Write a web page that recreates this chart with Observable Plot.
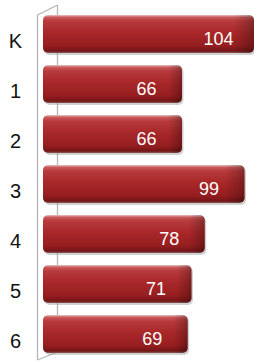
<!DOCTYPE html>
<html>
<head>
<meta charset="utf-8">
<script src="https://cdn.jsdelivr.net/npm/d3@7"></script>
<script src="https://cdn.jsdelivr.net/npm/@observablehq/plot@0.6"></script>
<style>
  html, body { margin: 0; padding: 0; background: #fff; }
  #chart svg { display: block; }
</style>
</head>
<body>
<div id="chart"></div>
<script>
const categories = ["K", "1", "2", "3", "4", "5", "6"];
const values = [104, 66, 66, 99, 78, 71, 69];

const data = categories.map((c, i) => ({ cat: c, value: values[i] }));

const wall = (index, scales, vals, dim) => {
  const x0 = scales.x(0) + 0.5;
  const top = dim.marginTop - 4;
  const bottom = dim.height - dim.marginBottom - 7;
  const g = d3.create("svg:g").attr("stroke", "#b5b5b5").attr("stroke-width", 1.3).attr("fill", "none");
  g.append("path").attr("d",
    `M${x0},${top}V${bottom}` +
    `M${x0 - 20},${top + 10}V${bottom + 8}` +
    `M${x0},${top}L${x0 - 20},${top + 10}` +
    `M${x0},${bottom}L${x0 - 20},${bottom + 8}`);
  return g.node();
};

const chart = Plot.plot({
  width: 254,
  height: 362,
  marginTop: 9,
  marginBottom: 3,
  marginLeft: 57,
  marginRight: 0,
  style: { fontFamily: "Liberation Sans, Arial, sans-serif", background: "#fff" },
  x: { domain: [0, 104], axis: null },
  y: { domain: categories, paddingInner: 0.24, paddingOuter: 0.12, axis: null },
  marks: [
    wall,
    Plot.barX(data, { x: "value", y: "cat", fill: "#9a9a9a", fillOpacity: 0.45, insetLeft: -14, dx: 1.5, dy: 2, rx: 5 }),
    Plot.barX(data, { x: "value", y: "cat", fill: "url(#barGrad)", insetLeft: -14, rx: 5 }),
    Plot.barX(data, { x: "value", y: "cat", fill: "url(#capGrad)", insetLeft: -14, rx: 5 }),
    Plot.text(data, { x: "value", y: "cat", text: d => String(d.value), fill: "white", fontSize: 18, textAnchor: "middle", dx: -36, dy: 5 }),
    Plot.text(categories, { y: d => d, text: d => d, frameAnchor: "left", dx: -42, dy: 7, fontSize: 20, fill: "#111", textAnchor: "middle" })
  ]
});

const svg = d3.select(chart);
const defs = svg.insert("defs", ":first-child");
const lg = defs.append("linearGradient").attr("id", "barGrad").attr("x1", 0).attr("y1", 0).attr("x2", 0).attr("y2", 1);
[[0, "#e6c4c4"], [0.06, "#c9595a"], [0.16, "#b83a3c"], [0.45, "#a9282a"], [0.8, "#961e20"], [0.95, "#741516"], [1, "#8a5a5a"]]
  .forEach(([o, c]) => lg.append("stop").attr("offset", o).attr("stop-color", c));
const cg = defs.append("linearGradient").attr("id", "capGrad").attr("x1", 0).attr("y1", 0).attr("x2", 1).attr("y2", 0);
[[0, "#000", 0], [0.9, "#000", 0], [0.97, "#000", 0.18], [1, "#000", 0.3]]
  .forEach(([o, c, a]) => cg.append("stop").attr("offset", o).attr("stop-color", c).attr("stop-opacity", a));

document.getElementById("chart").appendChild(chart);
</script>
</body>
</html>
